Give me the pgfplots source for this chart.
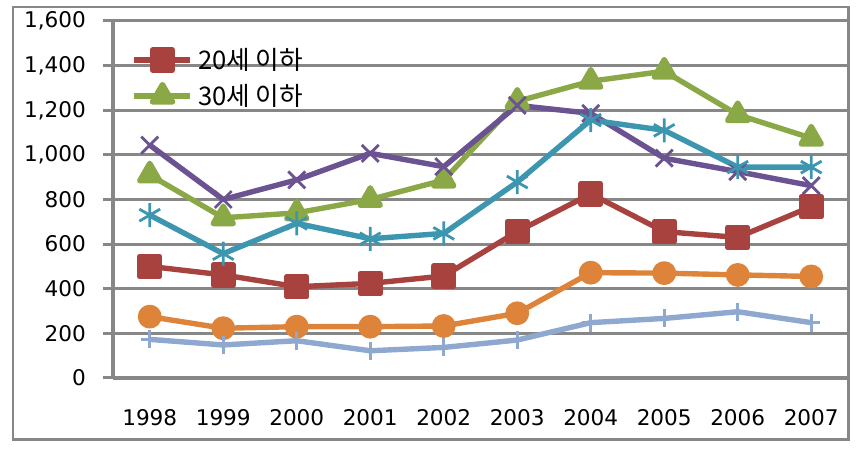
\documentclass[border=0pt]{standalone}
\usepackage{fontspec}
\setmainfont{DejaVu Sans}
\newfontfamily\kr{Noto Sans CJK KR}
\usepackage{pgfplots}
\pgfplotsset{compat=1.18}
\definecolor{gridgray}{HTML}{878787}
\definecolor{cred}{HTML}{A8423F}
\definecolor{cgreen}{HTML}{8AA846}
\definecolor{cpurple}{HTML}{6B5392}
\definecolor{cteal}{HTML}{3D96AF}
\definecolor{corange}{HTML}{DE843A}
\definecolor{cblue}{HTML}{8EA8CF}

\begin{document}
\begin{tikzpicture}
\path[use as bounding box] (0,0) rectangle (431.5pt,226.5pt);
\draw[gridgray,line width=1.3pt] (6.5pt,6.8pt) rectangle (424.3pt,223pt);
\begin{axis}[
  at={(56.5pt,37.5pt)}, anchor=south west,
  scale only axis,
  width=367.5pt, height=178.5pt,
  xmin=-0.5, xmax=9.5,
  ymin=0, ymax=1600,
  ytick={0,200,...,1600},
  xtick={0,...,9},
  xticklabels={1998,1999,2000,2001,2002,2003,2004,2005,2006,2007},
  minor xtick={-0.5,0.5,...,9.5},
  axis lines*=left,
  axis line style={gridgray,line width=2pt,-},
  ymajorgrids,
  grid style={gridgray,line width=1.5pt},
  tick align=outside,
  xtick style={draw=none},
  minor tick style={gridgray,line width=2pt},
  minor tick length=3.5pt,
  ytick style={gridgray,line width=1.5pt},
  major tick length=5pt,
  tick label style={font=\fontsize{10.8}{13}\selectfont},
  /pgf/number format/assume math mode=true,
  /pgf/number format/.cd,fixed,precision=0,1000 sep={,},
  /pgfplots/.cd,
  xticklabel style={yshift=-7pt},
  yticklabel style={xshift=-5pt},
  legend style={draw=none,fill=none,font=\kr\fontsize{12.8}{15}\selectfont,
    at={(rel axis cs:0.025,0.937)},anchor=north west,
    row sep=2pt,cells={anchor=west},inner sep=0pt,
    nodes={inner xsep=2.5pt}},
  legend image code/.code={\draw[mark repeat=2,mark phase=2]
    plot coordinates {(0pt,0pt) (14pt,0pt) (28pt,0pt)};},
  every axis plot/.append style={line width=2.7pt,line join=round},
  clip=false,
]
\addplot[cred,mark=square*,mark size=5pt,mark options={solid}] coordinates
  {(0,500) (1,462) (2,409) (3,424) (4,457) (5,656) (6,825) (7,656) (8,630) (9,768)};
\addlegendentry{20세 이하}
\addplot[cgreen,mark=triangle*,mark size=5.8pt] coordinates
  {(0,910) (1,718) (2,740) (3,800) (4,887) (5,1240) (6,1330) (7,1375) (8,1180) (9,1075)};
\addlegendentry{30세 이하}
\addplot[cpurple,mark=x,mark size=6pt,mark options={line width=1.4pt},forget plot] coordinates
  {(0,1044) (1,800) (2,888) (3,1007) (4,947) (5,1222) (6,1186) (7,985) (8,925) (9,862)};
\addplot[cteal,mark=asterisk,mark size=6pt,mark options={line width=1.4pt},forget plot] coordinates
  {(0,730) (1,557) (2,693) (3,624) (4,648) (5,878) (6,1156) (7,1110) (8,945) (9,945)};
\addplot[corange,mark=*,mark size=4.6pt,forget plot] coordinates
  {(0,275) (1,223) (2,230) (3,230) (4,233) (5,290) (6,472) (7,470) (8,462) (9,455)};
\addplot[cblue,mark=+,mark size=4.5pt,mark options={line width=1.4pt},forget plot] coordinates
  {(0,173) (1,148) (2,167) (3,122) (4,137) (5,170) (6,248) (7,267) (8,297) (9,248)};
\end{axis}
\end{tikzpicture}
\end{document}
